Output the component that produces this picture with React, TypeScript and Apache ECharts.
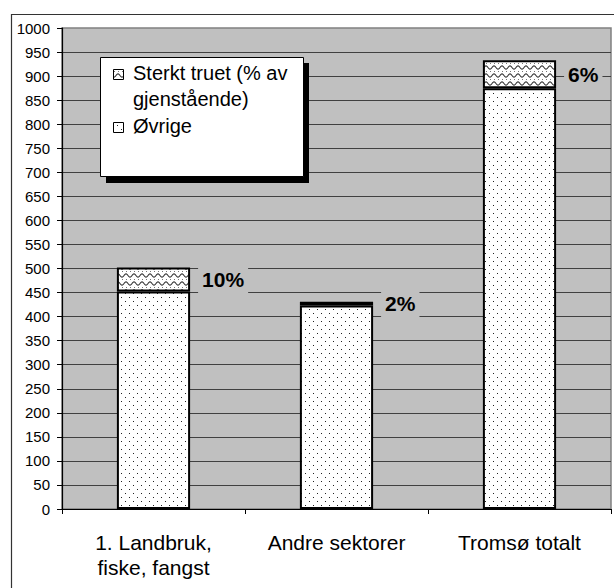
import React, { useEffect, useRef } from "react";
import * as echarts from "echarts";

const categories = ["1. Landbruk,\nfiske, fangst", "Andre sektorer", "Tromsø totalt"];
const ovrige = [452, 423, 875];
const sterktTruet = [50, 8, 58];
const pctLabels = ["10%", "2%", "6%"];
const seriesNames = ["Sterkt truet (% av gjenstående)", "Øvrige"];
const legendLines = ["Sterkt truet (% av", "gjenstående)"];
const yMin = 0;
const yMax = 1000;
const yInterval = 50;

const FONT = "'Liberation Sans', Arial, sans-serif";

function makeDots() {
  const c = document.createElement("canvas");
  c.width = 8;
  c.height = 8;
  const ctx = c.getContext("2d")!;
  ctx.fillStyle = "#ffffff";
  ctx.fillRect(0, 0, 8, 8);
  ctx.fillStyle = "#222222";
  ctx.fillRect(1, 1, 1, 1);
  ctx.fillRect(5, 5, 1, 1);
  return { image: c, repeat: "repeat", imageWidth: 8, imageHeight: 8 } as any;
}

function makeWave() {
  const c = document.createElement("canvas");
  c.width = 8;
  c.height = 8;
  const ctx = c.getContext("2d")!;
  ctx.fillStyle = "#ffffff";
  ctx.fillRect(0, 0, 8, 8);
  ctx.strokeStyle = "#333333";
  ctx.lineWidth = 1.1;
  ctx.beginPath();
  for (let i = -2; i <= 18; i++) {
    const x = i * 0.5;
    const y = 3.5 + 1.6 * Math.sin((x / 8) * Math.PI * 2);
    if (i === -2) ctx.moveTo(x, y);
    else ctx.lineTo(x, y);
  }
  ctx.stroke();
  ctx.fillStyle = "#777777";
  ctx.fillRect(2, 7, 1, 1);
  ctx.fillRect(6, 7, 1, 1);
  return { image: c, repeat: "repeat", imageWidth: 8, imageHeight: 8 } as any;
}

export default function App() {
  const ref = useRef<HTMLDivElement>(null);

  useEffect(() => {
    if (!ref.current) return;
    const chart = echarts.init(ref.current, undefined, { renderer: "svg" });
    const dots = makeDots();
    const wave = makeWave();

    const option: any = {
      animation: false,
      backgroundColor: "#ffffff",
      textStyle: { fontFamily: FONT },
      grid: {
        left: 62,
        right: 3,
        top: 28,
        bottom: 79,
        show: true,
        backgroundColor: "#c0c0c0",
        borderColor: "#808080",
        borderWidth: 1.5,
        outerBoundsMode: "none",
      },
      xAxis: {
        type: "category",
        data: categories,
        axisLine: { show: true, lineStyle: { color: "#000", width: 1.2 } },
        axisTick: { show: true, length: 5, lineStyle: { color: "#000" } },
        axisLabel: {
          color: "#000",
          fontSize: 21,
          lineHeight: 25,
          margin: 21,
          fontFamily: FONT,
          interval: 0,
        },
        splitLine: { show: false },
      },
      yAxis: {
        type: "value",
        min: yMin,
        max: yMax,
        interval: yInterval,
        axisLine: { show: true, lineStyle: { color: "#000", width: 1.2 } },
        axisTick: { show: true, length: 5, lineStyle: { color: "#000" } },
        axisLabel: {
          color: "#000",
          fontSize: 15,
          margin: 12,
          fontFamily: FONT,
          formatter: (v: number) => String(v),
        },
        splitLine: {
          show: true,
          showMaxLine: false,
          lineStyle: { color: "#404040", width: 1 },
        },
      },
      legend: { show: false },
      series: [
        {
          name: seriesNames[1],
          type: "bar",
          stack: "total",
          data: ovrige,
          barCategoryGap: "60%",
          itemStyle: { color: dots, borderColor: "#000", borderWidth: 2 },
        },
        {
          name: seriesNames[0],
          type: "bar",
          stack: "total",
          data: sterktTruet,
          barCategoryGap: "60%",
          itemStyle: { color: wave, borderColor: "#000", borderWidth: 2 },
          label: {
            show: true,
            position: "right",
            distance: 8,
            formatter: (p: any) => pctLabels[p.dataIndex],
            color: "#000",
            fontSize: 21,
            fontWeight: "bold",
            fontFamily: FONT,
            lineHeight: 22,
            backgroundColor: "#c0c0c0",
            padding: [6, 4, 6, 4],
          },
        },
      ],
      graphic: [
        {
          type: "rect",
          z: 100,
          shape: { x: 11.5, y: 14.5, width: 700, height: 700 },
          style: { fill: "none", stroke: "#333", lineWidth: 1.2 },
          silent: true,
        },
        {
          type: "rect",
          z: 100,
          shape: { x: 106, y: 63, width: 203, height: 120 },
          style: { fill: "#000" },
          silent: true,
        },
        {
          type: "rect",
          z: 101,
          shape: { x: 100.5, y: 57.5, width: 203, height: 119 },
          style: { fill: "#fff", stroke: "#000", lineWidth: 1 },
          silent: true,
        },
        {
          type: "rect",
          z: 102,
          shape: { x: 113.5, y: 69.5, width: 10, height: 10 },
          style: { fill: wave, stroke: "#000", lineWidth: 1 },
          silent: true,
        },
        {
          type: "rect",
          z: 102,
          shape: { x: 113.5, y: 122.5, width: 10, height: 10 },
          style: { fill: dots, stroke: "#000", lineWidth: 1 },
          silent: true,
        },
        {
          type: "text",
          z: 102,
          x: 133,
          y: 73,
          style: {
            text: legendLines[0],
            font: `20px ${FONT}`,
            fill: "#000",
            verticalAlign: "middle",
            align: "left",
          },
          silent: true,
        },
        {
          type: "text",
          z: 102,
          x: 133,
          y: 98.5,
          style: {
            text: legendLines[1],
            font: `20px ${FONT}`,
            fill: "#000",
            verticalAlign: "middle",
            align: "left",
          },
          silent: true,
        },
        {
          type: "text",
          z: 102,
          x: 133,
          y: 126,
          style: {
            text: seriesNames[1],
            font: `20px ${FONT}`,
            fill: "#000",
            verticalAlign: "middle",
            align: "left",
          },
          silent: true,
        },
      ],
    };

    chart.setOption(option);
    return () => chart.dispose();
  }, []);

  return (
    <div
      ref={ref}
      style={{ position: "absolute", left: 0, top: 0, width: 614, height: 588 }}
    />
  );
}
